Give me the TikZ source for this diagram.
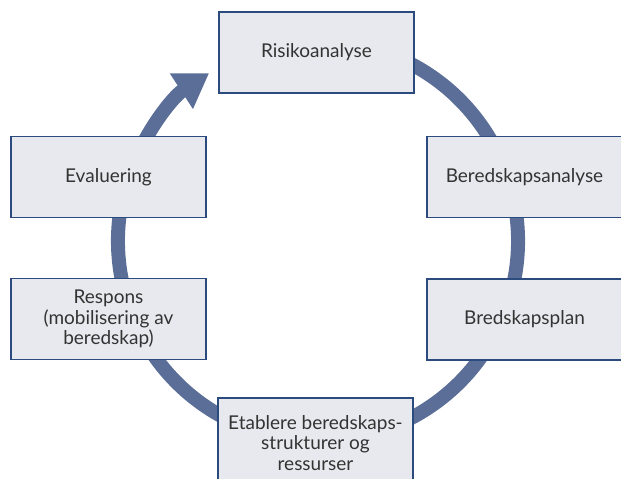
\documentclass[tikz,border=0pt]{standalone}
\usepackage{fontspec}
\setmainfont{Lato}
\usetikzlibrary{arrows.meta}
\definecolor{ringblue}{HTML}{5B6E97}
\definecolor{edgeblue}{HTML}{2B4B7E}
\definecolor{boxfill}{HTML}{E8E9EE}
\definecolor{txtgray}{HTML}{333333}
\tikzset{
  stepbox/.style={draw=edgeblue, line width=1.6pt, fill=boxfill, text=txtgray,
    minimum width=195pt, minimum height=81pt, align=center,
    font=\fontsize{19}{20.5}\selectfont},
  ring/.style={draw=ringblue, line width=14pt}
}
\begin{document}
\begin{tikzpicture}[x=1pt,y=-1pt]
\useasboundingbox (0,0) rectangle (621,479);
\coordinate (c) at (318,241);

% the cycle
\draw[ring,-{Triangle[width=40pt,length=33pt]}] ([shift={(-70:200)}]c)
  arc[start angle=-70, end angle=237, radius=200];

\node[stepbox] (risiko) at (316.5,52.5) {Risikoanalyse};
\node[stepbox] (beredanalyse) at (524.5,177) {Beredskapsanalyse};
\node[stepbox] (plan) at (524.5,319.5) {Bredskapsplan};
\node[stepbox, minimum height=90pt] (etablere) at (315.5,443) {Etablere beredskaps-\\strukturer og\\ressurser};
\node[stepbox] (respons) at (108.5,319) {Respons\\(mobilisering av\\beredskap)};
\node[stepbox] (evaluering) at (108.5,177) {Evaluering};
\end{tikzpicture}
\end{document}
